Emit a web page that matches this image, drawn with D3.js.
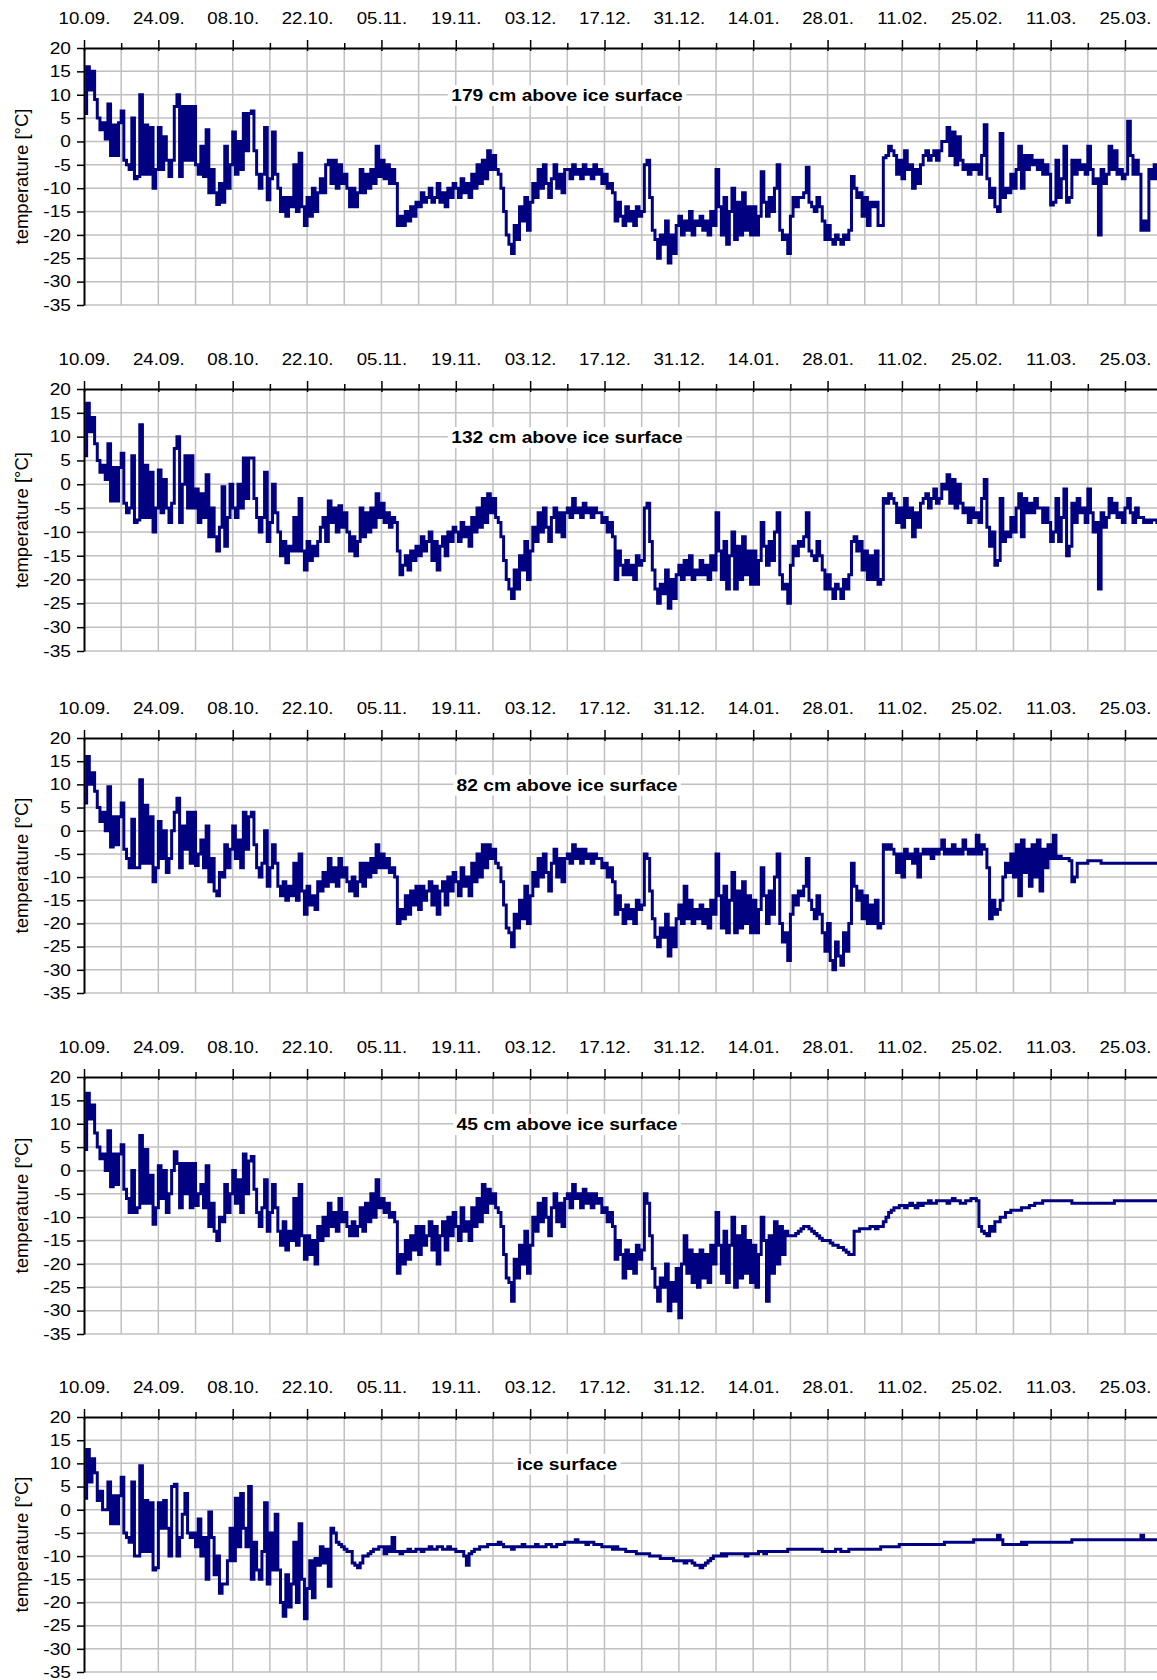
<!DOCTYPE html>
<html>
<head>
<meta charset="utf-8">
<script src="https://cdn.jsdelivr.net/npm/d3@7"></script>
<style>
  body { margin: 0; background: #fff; }
  text { font-family: "Liberation Sans", Arial, sans-serif; fill: #000; }
</style>
</head>
<body>
<div id="chart"></div>
<script>
  // readings every 12 h starting 10.09.
  var startDate = Date.UTC(2006, 8, 10);
  var endDate = Date.UTC(2007, 3, 1);
  var stepMs = 12 * 3600 * 1000;

  var tempTicks = [20, 15, 10, 5, 0, -5, -10, -15, -20, -25, -30, -35];

  var titles = ['179 cm above ice surface', '132 cm above ice surface',
    '82 cm above ice surface', '45 cm above ice surface', 'ice surface'];

  // temperature [°C], one row = one week (14 values)
  var t179 = [
    6, 16, 11, 15, 9, 5, 2.5, 4, 0.5, 8, -3, 3.5, -3, 4,
    6.5, -4, -5, -6, 5, -8, -7.5, 10, -7, 3.5, -7, 3, -10, -6,
    3, -6, 1, -4, -7.5, -4, 7.5, 10, -7.5, 7.5, -4, 7.5, -4, 7.5,
    -5, -7, -1, -7.5, 2.5, -11, -6, -11, -13.5, -9, -13, -1, -10, -5,
    2, -7, 0, -6, 6, -2, 6, 6.5, -2, -7, -10, -7, 3, -12.5,
    -8, 2, -7, -10, -15, -12, -16, -12, -14, -5, -15, -2.5, -14, -18,
    -12, -16, -10, -15, -11, -8, -11, -5, -4, -9, -4, -10, -5, -9,
    -7, -10, -14, -10, -14, -11, -6, -11, -7, -10, -6, -9, -1, -7.5,
    -4, -8, -5, -9, -6, -9, -18, -16, -18, -15, -17, -14, -16, -13,
    -14, -11, -13, -12, -10, -13, -12, -9, -13, -11, -14, -10, -12, -9,
    -10, -12, -8, -11, -9, -12, -7, -10, -5, -9, -4, -8, -2, -6,
    -3, -6, -7, -10, -15, -20, -22, -24, -18, -21, -14, -17, -12, -19,
    -13, -9, -12, -6, -10, -5, -9, -12, -8, -5, -10, -7, -11, -6,
    -6, -8, -5, -7, -6, -8, -5, -7, -6, -8, -5, -7, -6, -9,
    -7, -10, -9, -11, -17, -13, -16, -18, -14, -17, -15, -18, -14, -16,
    -15, -5, -4, -12, -19, -21, -25, -20, -22, -17, -26, -20, -24, -18,
    -16, -20, -17, -19, -15, -20, -17, -18, -16, -19, -17, -20, -15, -18,
    -6, -14, -20, -12, -22, -15, -10, -21, -13, -20, -11, -19, -14, -20,
    -14, -20, -16, -6.5, -13, -16, -12, -15, -10, -5, -19, -21, -20, -24,
    -16, -12, -14, -12, -12, -11, -5.5, -13, -14, -15, -12, -14, -17, -21,
    -18, -21, -22, -20, -21, -22, -20, -21, -19, -7.5, -10, -12, -11, -16,
    -12, -18, -13, -14, -13, -18, -18, -3.5, -3, -1, -2, -3, -7, -4,
    -8, -2, -6, -5, -10, -6, -9, -5, -3, -2, -4, -3, -2, -4,
    -2, 0, 0, 3, -3, 2, -5, 1, -4, -6, -5, -7, -5, -6,
    -5, -7, -3, 3.6, -8, -12, -10, -14, -15, 1.7, -12, -10, -11, -7,
    -10, -6, -1, -10, -3, -6, -3, -5, -4, -6, -4, -7, -5, -7,
    -13.6, -13, -4, -12, -8, -1, -13, -12, -4, -7, -4, -6, -5, -7,
    -1, -6, -9, -8, -20, -6, -9, -7, -1, -6, -2, -7, -6, -8,
    -7, 4.3, -3, -7, -4, -7, -19, -17, -19, -6, -8, -5, -8, -7
  ];

  var t132 = [
    6, 17, 11, 14, 8.5, 5, 2.5, 4, 1, 8.5, -3.5, 3.5, -3.5, 3.5,
    6.5, -4, -6, -5, 6, -8, -7.5, 12.5, -7, 4, -7, 2.5, -10, -5,
    3, -6, 1, -5, -8, -4, 7.5, 10, -8, 0, 6, -5, 6, -5,
    -1, -8, -2, -7, 2, -11, -5, -11, -14, -9, -0.5, -13, -7, 0,
    -5, -7, 0, -5, 5.5, -3, 5.5, 5.5, -3, -7, -10, -7, 2.5, -12,
    -8, 0, -6, -10, -15, -12, -16.5, -13, -14, -7, -14, -3, -14, -18,
    -12, -16, -13, -15, -12, -9, -7, -12, -3.5, -8, -5, -10, -4.5, -9,
    -6, -10, -14, -11, -15, -12, -5, -11, -6, -10, -5, -9, -2, -7,
    -4, -8, -6, -9, -7, -8, -14, -19, -17, -15, -18, -14, -16, -13,
    -15, -11, -14, -12, -10, -16, -12, -18, -13, -11, -15, -10, -12, -9,
    -10, -12, -8, -11, -9, -13, -7, -10, -5, -9, -3, -8, -2, -6,
    -3, -7, -8, -11, -16, -20, -22, -24, -18, -22, -15, -18, -12, -20,
    -14, -9, -12, -6, -10, -5, -9, -12, -7, -5, -10, -6, -11, -6,
    -5, -7, -3, -6, -5, -7, -4, -6, -5, -7, -5, -6, -6, -8,
    -7, -10, -8, -11, -20, -14, -17, -19, -16, -19, -17, -20, -15, -17,
    -16, -5, -4, -12, -18, -22, -25, -21, -23, -18, -26, -20, -24, -19,
    -17, -20, -16, -19, -15, -20, -18, -19, -16, -19, -17, -20, -15, -18,
    -6, -14, -20, -12, -22, -15, -10, -22, -13, -20, -11, -19, -14, -21,
    -14, -21, -16, -8, -13, -17, -12, -16, -10, -6, -19, -22, -21, -25,
    -17, -13, -15, -12, -13, -11, -6, -14, -15, -16, -12, -15, -18, -22,
    -19, -22, -24, -21, -22, -24, -20, -22, -19, -12, -11, -14, -12, -18,
    -14, -20, -15, -20, -14, -21, -20, -3, -4, -2, -3, -4, -8, -5,
    -9, -3, -7, -5, -11, -6, -9, -4, -3, -2, -5, -3, -1, -4,
    -3, 0, -1, 2, -4, 1, -5, 0, -4, -6, -5, -8, -5, -7,
    -6, -8, -3, 1, -9, -13, -10, -17, -16, -3, -12, -10, -11, -7,
    -10, -5, -2, -11, -3, -6, -4, -6, -3, -5, -5, -8, -5, -8,
    -12, -10, -3, -12, -7, -1, -15, -13, -4, -8, -3, -6, -5, -8,
    -1, -6, -10, -8, -22, -6, -9, -7, -3, -6, -4, -7, -6, -8,
    -5, -3, -6, -8, -5, -7, -7, -8, -7.5, -8, -7.5, -7.5, -8, -8
  ];

  var t82 = [
    6, 16, 10, 12.5, 8.5, 5, 2, 4, 0, 9.5, -3.5, 3, -3, 3,
    6, -4, -6, -8, 2.5, -8, -8, 11, -7, 5.5, -7, 3, -11, -8,
    2, -6, 0, -9, -6, 0, 4, 7, -8, 1, -4, 4, -7, 4,
    -7.5, -5, -2, -8, 1, -11, -6, -13, -14, -9, -10, -3, -8, -4,
    1, -6, -2, -8, 4, -4, 3, 4, -3, -8, -10, -7, 0, -12,
    -8, -3, -7, -12, -14, -11, -15, -12, -14, -7, -15, -5, -13, -18,
    -12, -16, -14, -17, -11, -13, -9, -12, -6, -11, -8, -12, -6, -10,
    -8, -11, -13, -10, -14, -11, -7, -12, -7, -10, -6, -9, -3, -8,
    -5, -8, -6, -9, -8, -10, -20, -17, -19, -14, -18, -13, -16, -12,
    -17, -12, -15, -13, -11, -16, -12, -18, -13, -11, -16, -10, -13, -9,
    -11, -14, -8, -12, -10, -14, -7, -11, -5, -10, -3, -8, -3, -6,
    -4, -7, -8, -11, -16, -21, -22, -25, -18, -21, -15, -19, -12, -20,
    -14, -9, -12, -6, -10, -5, -9, -13, -7, -4, -10, -6, -11, -6,
    -5, -7, -3, -6, -4, -7, -4, -6, -5, -7, -5, -6, -6, -8,
    -7, -10, -8, -11, -18, -14, -17, -20, -16, -19, -17, -20, -15, -17,
    -16, -5, -6, -13, -19, -23, -25, -21, -23, -18, -27, -21, -25, -19,
    -16, -20, -12, -19, -15, -20, -17, -19, -16, -20, -17, -21, -15, -18,
    -5, -14, -21, -12, -22, -15, -9, -22, -13, -21, -11, -20, -14, -22,
    -15, -22, -17, -8, -14, -20, -13, -18, -10, -5, -20, -24, -22, -28,
    -18, -14, -16, -13, -14, -12, -6, -15, -17, -19, -14, -18, -22, -26,
    -20, -28, -30, -24, -27, -29, -22, -26, -20, -7, -12, -15, -13, -19,
    -14, -20, -16, -20, -15, -21, -20, -3, -4, -3, -4, -5, -9, -5,
    -10, -4, -6, -5, -7, -4, -10, -5, -4, -5, -4, -6, -4, -5,
    -4, -2, -5, -4, -5, -3, -5, -4, -5, -2, -4, -5, -4, -5,
    -1, -5, -3, -4, -8, -19, -15, -18, -17, -15, -10, -7, -9, -5,
    -10, -3, -14, -2, -9, -4, -12, -3, -10, -2, -13, -4, -8, -3,
    -6, -1, -6, -5.5, -6, -6, -6, -6.5, -11, -10, -7, -7, -7, -7,
    -6.5, -6.5, -6.5, -6.5, -6.5, -7, -7, -7, -7, -7, -7, -7, -7, -7,
    -7, -7, -7, -7, -7, -7, -7, -7, -7, -7, -7, -7, -7, -7
  ];

  var t45 = [
    4.5, 16.5, 11, 14, 8, 5, 2.5, 3.5, 0, 8.5, -3.5, 3.5, -3, 3.5,
    5.5, -4, -6, -9, 0, -9, -8, 7.5, -7, 4.5, -7, -1, -11.5, -8,
    1, -6, 0, -9, -5, 0, 4, 1.5, -8, 1.5, -5, 1.5, -8, 1.5,
    -7.5, -5, -3, -8, 1, -12, -7, -13, -15, -10, -11, -3, -9, -5,
    0, -7, -2, -9, 3.5, -5, 2, 3, -4, -9, -12, -8, -2, -13,
    -9, -3, -8, -13, -16, -11, -17, -13, -15, -6, -16, -3, -14, -19,
    -14, -18, -15, -20, -12, -15, -10, -14, -7, -12, -9, -13, -6, -11,
    -9, -12, -14, -11, -14, -12, -8, -13, -7, -11, -5, -10, -2, -8,
    -6, -9, -7, -10, -9, -11, -22, -18, -20, -15, -19, -14, -17, -12,
    -18, -12, -16, -14, -11, -17, -12, -20, -14, -11, -17, -10, -14, -9,
    -12, -15, -8, -13, -11, -15, -8, -12, -6, -11, -3, -9, -4, -7,
    -5, -8, -9, -12, -18, -23, -24, -28, -19, -23, -16, -20, -13, -22,
    -16, -10, -13, -7, -11, -6, -10, -14, -8, -5, -11, -7, -12, -6,
    -5, -8, -3, -6, -5, -8, -4, -7, -5, -8, -5, -7, -6, -9,
    -8, -11, -9, -12, -19, -15, -18, -23, -17, -21, -18, -22, -16, -19,
    -17, -5, -7, -14, -21, -25, -28, -23, -25, -20, -30, -24, -28, -21,
    -31.5, -20, -14, -22, -17, -24, -18, -25, -17, -23, -18, -24, -16, -20,
    -9, -16, -22, -13, -24, -16, -10, -25, -14, -23, -12, -22, -15, -24,
    -16, -25, -18, -10, -15, -28, -14, -22, -11, -20, -12, -18, -13, -14,
    -14, -14, -13.5, -13, -12.5, -12, -12, -12.5, -13, -13.5, -14, -14.5, -15, -15,
    -15, -15.5, -16, -16, -16.5, -16.5, -17, -17.5, -18, -18, -13, -13, -12.5, -12.5,
    -12.5, -12.5, -12, -12, -12.5, -12, -12, -11, -10, -9, -8.5, -8, -8, -7.5,
    -7.5, -8, -7.5, -7, -7.5, -8, -7, -7.5, -7, -7, -6.5, -7, -7, -6.5,
    -6.5, -6.5, -6.5, -7, -6.5, -6, -6.5, -6.5, -7, -7, -6.5, -6.5, -6, -6,
    -6.5, -12, -13, -13.5, -14, -12, -13, -11, -11, -10, -10, -9, -9, -8.5,
    -8.5, -8.5, -8.5, -8, -8, -8, -7.5, -7.5, -7, -7, -7, -6.5, -6.5, -6.5,
    -6.5, -6.5, -6.5, -6.5, -6.5, -6.5, -6.5, -6.5, -7, -7, -7, -7, -7, -7,
    -7, -7, -7, -7, -7, -7, -7, -7, -7, -7, -6.5, -6.5, -6.5, -6.5,
    -6.5, -6.5, -6.5, -6.5, -6.5, -6.5, -6.5, -6.5, -6.5, -6.5, -6.5, -6.5, -6.5, -6.5
  ];

  var t0 = [
    2.5, 13, 6, 11, 8, 2, 4, 0, 0, 6, -3, 3, -3, 3,
    7, -5, -6, -7, 6, -10, -10, 9.5, -9, 2, -9, 1.5, -13, -12.5,
    1.5, -4, 2, -4, -10, 5, 5.5, -10, -6, -1, 3.5, -5, -6, -5,
    -8, -2, -10, -6, -15, -0.5, -6, -14, -10, -18, -16, -16, -11, -4,
    -11, 2.5, -8, 3.5, -4, -8, 5, -15, -7, -13, -15, -9, 1.5, -16,
    -5, -13, -1, -13, -20, -23, -14, -21, -16, -7, -20, -3, -15, -23.5,
    -17, -11, -19, -10.5, -12, -8, -11.5, -8.5, -16.5, -4, -5, -7, -7.5, -8,
    -8.5, -9, -9, -11.5, -12, -12.5, -11.5, -10, -10, -9.5, -9, -8.5, -8.5, -8,
    -8, -9.5, -8, -9, -6, -9, -9, -9.5, -9, -9, -8.5, -9, -9, -8.5,
    -8.5, -9, -8.5, -8.5, -8, -8.5, -8.5, -8, -8, -8.5, -8.5, -8, -8.5, -8.5,
    -9, -9, -9, -10, -12, -9.5, -9, -8.5, -8.5, -8, -8, -8, -7.5, -7.5,
    -7.5, -7.5, -7, -7.5, -8, -8, -8, -8.5, -8, -8, -8, -7.5, -8, -8,
    -8, -8, -7.5, -8, -8, -8, -7.5, -7.5, -8, -8, -7.5, -7.5, -7.5, -7,
    -7, -7, -7, -6.5, -7, -7, -7, -7.5, -7, -7, -7.5, -7.5, -7.5, -8,
    -8, -8, -8, -8.5, -8, -8.5, -8.5, -8.5, -9, -9, -9, -9, -9.5, -9.5,
    -9.5, -9.5, -9.5, -10, -10, -10, -10, -10.5, -10.5, -10.5, -10.5, -10.5, -11, -11,
    -11, -11, -11.5, -11, -11, -11.5, -12, -12, -12.5, -12, -11.5, -11, -10.5, -10,
    -10, -10, -9.5, -10, -9.5, -9.5, -9.5, -9.5, -9.5, -9.5, -9.5, -10, -9.5, -9.5,
    -9.5, -9.5, -9, -9, -9.5, -9, -9, -9, -9, -9, -9, -9, -9, -8.5,
    -8.5, -8.5, -8.5, -8.5, -8.5, -8.5, -8.5, -8.5, -8.5, -8.5, -8.5, -8.5, -9, -9,
    -9, -9, -9, -8.5, -8.5, -9, -9, -9, -8.5, -8.5, -8.5, -8.5, -8.5, -8.5,
    -8.5, -8.5, -8.5, -8.5, -8.5, -8.5, -8, -8, -8, -8, -8, -8, -8, -7.5,
    -7.5, -7.5, -7.5, -7.5, -7.5, -7.5, -7.5, -7.5, -7.5, -7.5, -7.5, -7.5, -7.5, -7.5,
    -7.5, -7.5, -7, -7, -7, -7, -7, -7, -7, -7, -7, -7, -7, -6.5,
    -6.5, -6.5, -6.5, -6.5, -6.5, -6.5, -6.5, -6.5, -5.5, -6.5, -7.5, -7.5, -7.5, -7.5,
    -7.5, -7.5, -7.5, -7, -7.5, -7, -7, -7, -7, -7, -7, -7, -7, -7,
    -7, -7, -7, -7, -7, -7, -7, -7, -6.5, -6.5, -6.5, -6.5, -6.5, -6.5,
    -6.5, -6.5, -6.5, -6.5, -6.5, -6.5, -6.5, -6.5, -6.5, -6.5, -6.5, -6.5, -6.5, -6.5,
    -6.5, -6.5, -6.5, -6.5, -6.5, -6.5, -5.5, -6.5, -6.5, -6.5, -6.5, -6.5, -6.5, -6.5
  ];

  var series = [t179, t132, t82, t45, t0];

  // panel positions (top = 20 °C, bottom = -35 °C)
  var panelTops = [48, 389, 738, 1077, 1417];
  var panelBottoms = [305, 651, 993, 1334, 1672];

  var width = 1157, height = 1680;
  var left = 84;
  var pxPerDay = 1041 / 196;
  var sx = 1.13; // text a bit wider than Arial

  var x = d3.scaleUtc()
    .domain([startDate, endDate])
    .range([left, left + 203 * pxPerDay]);

  var weekDates = d3.utcDay.range(new Date(startDate), new Date(endDate), 7);
  var majorDates = weekDates.filter(function(d, i){ return i % 2 === 0; });
  var minorDates = weekDates.filter(function(d, i){ return i % 2 === 1; });

  var svg = d3.select('#chart').append('svg')
    .attr('width', width)
    .attr('height', height);

  series.forEach(function(data, i){
    var top = panelTops[i], bottom = panelBottoms[i];
    var y = d3.scaleLinear().domain([-35, 20]).range([bottom, top]);
    var g = svg.append('g');

    svg.append('clipPath').attr('id', 'clip' + i)
      .append('rect')
      .attr('x', left).attr('y', top)
      .attr('width', width - left).attr('height', bottom - top);

    // grid
    g.append('g').selectAll('line')
      .data(tempTicks.filter(function(t){ return t < 20; }))
      .enter().append('line')
      .attr('x1', left).attr('x2', width)
      .attr('y1', function(d){ return y(d); })
      .attr('y2', function(d){ return y(d); })
      .attr('stroke', '#c0c0c0').attr('stroke-width', 1.5);

    g.append('g').selectAll('line')
      .data(weekDates.slice(1))
      .enter().append('line')
      .attr('x1', function(d){ return x(d); })
      .attr('x2', function(d){ return x(d); })
      .attr('y1', top).attr('y2', bottom)
      .attr('stroke', '#c0c0c0').attr('stroke-width', 1.5);

    // temperature line (steps)
    var pts = data.map(function(v, k){
      return {t: new Date(startDate + k * stepMs), v: v};
    });
    pts.push({t: new Date(startDate + data.length * stepMs), v: data[data.length - 1]});

    var line = d3.line()
      .x(function(d){ return x(d.t); })
      .y(function(d){ return y(d.v); })
      .curve(d3.curveStepAfter);

    g.append('path')
      .datum(pts)
      .attr('d', line)
      .attr('fill', 'none')
      .attr('stroke', '#000080')
      .attr('stroke-width', 3)
      .attr('clip-path', 'url(#clip' + i + ')');

    // y axis
    var ya = g.append('g')
      .attr('transform', 'translate(' + left + ',0)')
      .call(d3.axisLeft(y)
        .tickValues(tempTicks)
        .tickSizeInner(7).tickSizeOuter(0).tickPadding(6)
        .tickFormat(function(d){ return String(d); }));
    ya.select('.domain').attr('stroke-width', 2).attr('stroke', '#000');
    ya.selectAll('.tick line').attr('stroke-width', 1.5).attr('stroke', '#000');
    ya.selectAll('text')
      .attr('font-size', 16.5)
      .attr('transform', 'scale(' + (sx + 0.03) + ',1)')
      .attr('x', -13 / (sx + 0.03));

    // top date axis with crossing ticks
    var xa = g.append('g')
      .attr('transform', 'translate(0,' + top + ')')
      .call(d3.axisTop(x)
        .tickValues(majorDates)
        .tickSizeInner(8).tickSizeOuter(0).tickPadding(16)
        .tickFormat(d3.utcFormat('%d.%m.')));
    xa.select('.domain').attr('stroke-width', 2).attr('stroke', '#000');
    xa.selectAll('.tick line').attr('stroke-width', 1.5).attr('stroke', '#000');
    xa.selectAll('text')
      .attr('font-size', 16.5)
      .attr('transform', 'scale(' + sx + ',1)');

    var inner = g.append('g')
      .attr('transform', 'translate(0,' + top + ')')
      .call(d3.axisBottom(x).tickValues(majorDates).tickSize(3)
        .tickFormat(function(){ return ''; }));
    inner.select('.domain').remove();
    inner.selectAll('.tick line').attr('stroke-width', 1.5).attr('stroke', '#000');

    var minorTop = g.append('g')
      .attr('transform', 'translate(0,' + top + ')')
      .call(d3.axisTop(x).tickValues(minorDates).tickSize(5)
        .tickFormat(function(){ return ''; }));
    minorTop.select('.domain').remove();
    minorTop.selectAll('.tick line').attr('stroke-width', 1.5).attr('stroke', '#000');

    var minorIn = g.append('g')
      .attr('transform', 'translate(0,' + top + ')')
      .call(d3.axisBottom(x).tickValues(minorDates).tickSize(2)
        .tickFormat(function(){ return ''; }));
    minorIn.select('.domain').remove();
    minorIn.selectAll('.tick line').attr('stroke-width', 1.5).attr('stroke', '#000');

    // panel title on a white box
    var tg = g.append('g')
      .attr('transform', 'translate(567,' + (y(10) + 6.5) + ') scale(' + sx + ',1)');
    var tt = tg.append('text')
      .attr('text-anchor', 'middle')
      .attr('font-weight', 'bold')
      .attr('font-size', 17)
      .text(titles[i]);
    var bb = tt.node().getBBox();
    tg.insert('rect', 'text')
      .attr('x', bb.x - 3).attr('y', bb.y - 1)
      .attr('width', bb.width + 6).attr('height', bb.height + 2)
      .attr('fill', '#fff');

    // y label
    g.append('text')
      .attr('transform', 'translate(28,' + ((top + bottom) / 2) + ') rotate(-90)')
      .attr('text-anchor', 'middle')
      .attr('font-size', 18.5)
      .text('temperature [°C]');
  });
</script>
</body>
</html>
